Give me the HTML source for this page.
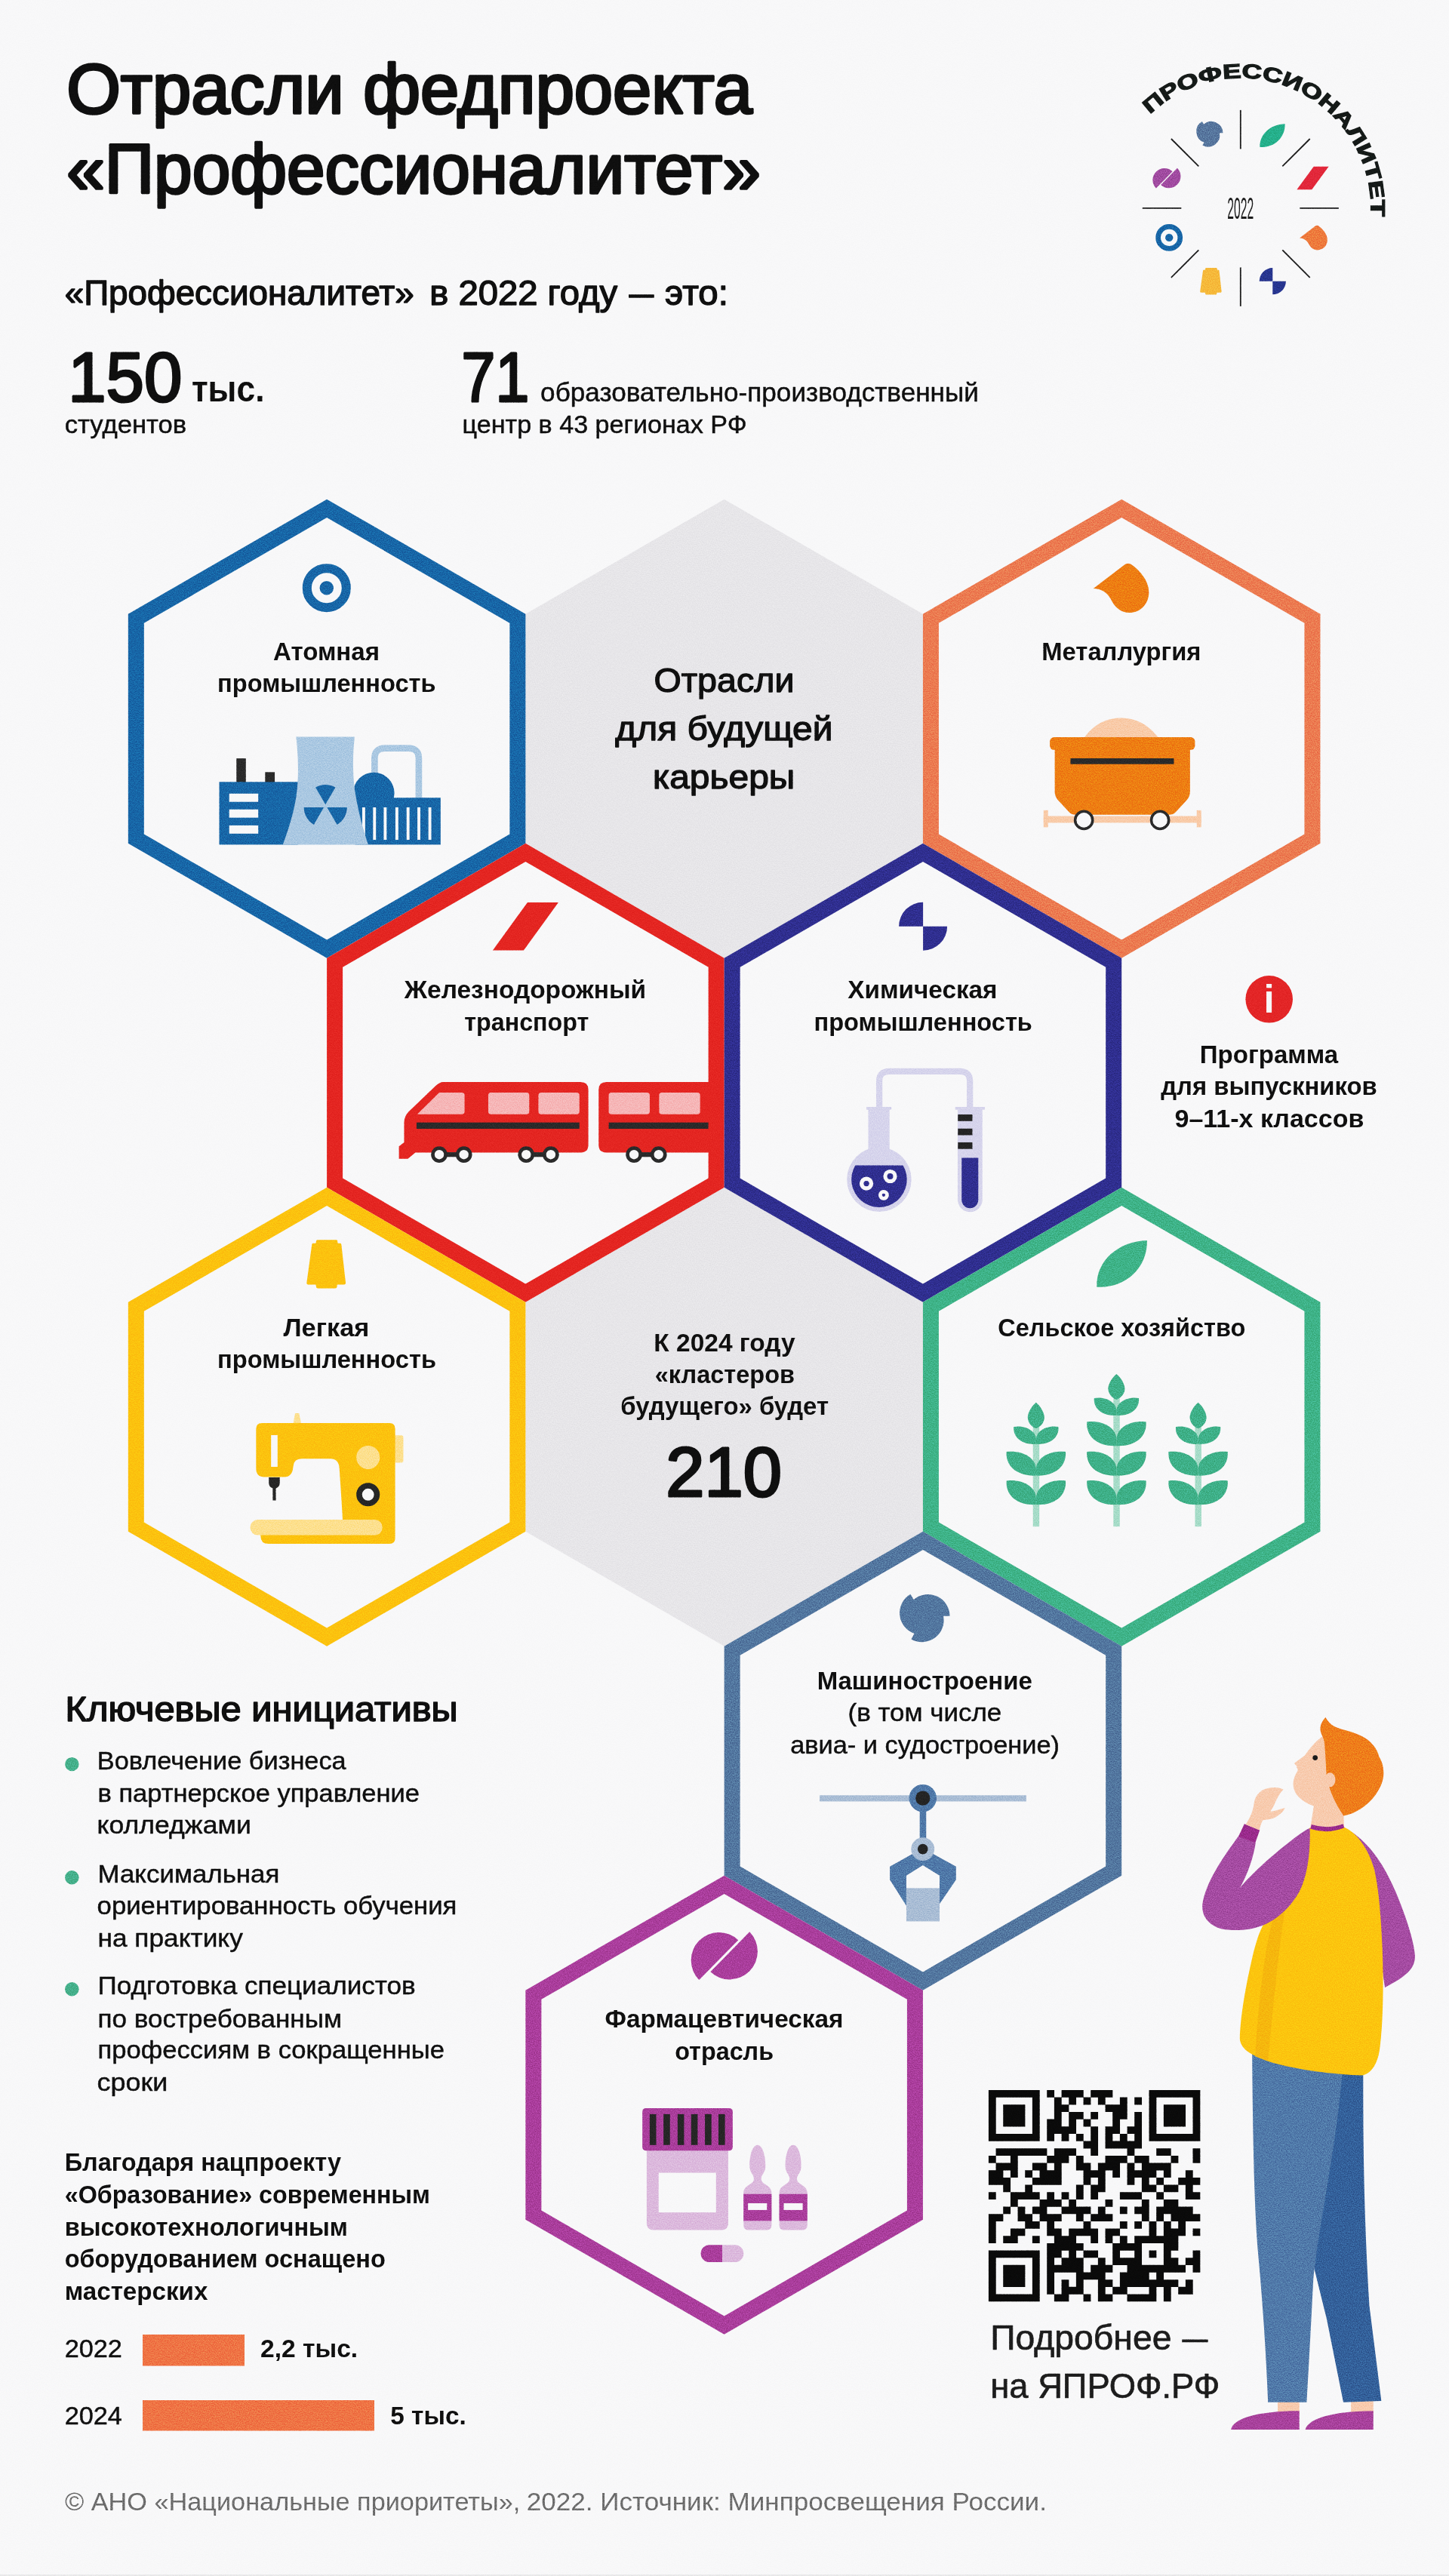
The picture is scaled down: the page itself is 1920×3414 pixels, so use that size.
<!DOCTYPE html>
<html lang="ru"><head><meta charset="utf-8"><title>Отрасли федпроекта «Профессионалитет»</title>
<style>
html,body{margin:0;padding:0;background:#f8f8f9;}
body{width:1920px;height:3414px;font-family:"Liberation Sans",sans-serif;}
svg{display:block;}
</style></head><body>
<svg width="1920" height="3414" viewBox="0 0 1920 3414" font-family="'Liberation Sans', sans-serif"><defs><filter id="grain" x="0" y="0" width="100%" height="100%" color-interpolation-filters="sRGB"><feTurbulence type="fractalNoise" baseFrequency="0.75" numOctaves="2" seed="7"/><feColorMatrix type="matrix" values="1.6 0 0 0 -0.3  1.6 0 0 0 -0.3  1.6 0 0 0 -0.3  0 0 0 0 1"/></filter></defs><path d="M959.64,661.70 L1222.92,813.70 L1222.92,1117.70 L959.64,1269.70 L696.37,1117.70 L696.37,813.70 Z" fill="#e7e6e9"/>
<path d="M959.64,1573.70 L1222.92,1725.70 L1222.92,2029.70 L959.64,2181.70 L696.37,2029.70 L696.37,1725.70 Z" fill="#e7e6e9"/>
<path d="M433.10,661.70 L696.37,813.70 L696.37,1117.70 L433.10,1269.70 L169.83,1117.70 L169.83,813.70 Z M433.10,685.95 L675.37,825.82 L675.37,1105.58 L433.10,1245.45 L190.83,1105.58 L190.83,825.82 Z" fill="#1766a7" fill-rule="evenodd"/>
<path d="M1486.19,661.70 L1749.46,813.70 L1749.46,1117.70 L1486.19,1269.70 L1222.92,1117.70 L1222.92,813.70 Z M1486.19,685.95 L1728.46,825.82 L1728.46,1105.58 L1486.19,1245.45 L1243.92,1105.58 L1243.92,825.82 Z" fill="#ec7a50" fill-rule="evenodd"/>
<path d="M696.37,1117.70 L959.64,1269.70 L959.64,1573.70 L696.37,1725.70 L433.10,1573.70 L433.10,1269.70 Z M696.37,1141.95 L938.64,1281.82 L938.64,1561.58 L696.37,1701.45 L454.10,1561.58 L454.10,1281.82 Z" fill="#e42521" fill-rule="evenodd"/>
<path d="M1222.92,1117.70 L1486.19,1269.70 L1486.19,1573.70 L1222.92,1725.70 L959.64,1573.70 L959.64,1269.70 Z M1222.92,1141.95 L1465.19,1281.82 L1465.19,1561.58 L1222.92,1701.45 L980.64,1561.58 L980.64,1281.82 Z" fill="#2f2e8f" fill-rule="evenodd"/>
<path d="M433.10,1573.70 L696.37,1725.70 L696.37,2029.70 L433.10,2181.70 L169.83,2029.70 L169.83,1725.70 Z M433.10,1597.95 L675.37,1737.82 L675.37,2017.58 L433.10,2157.45 L190.83,2017.58 L190.83,1737.82 Z" fill="#fcc20e" fill-rule="evenodd"/>
<path d="M1486.19,1573.70 L1749.46,1725.70 L1749.46,2029.70 L1486.19,2181.70 L1222.92,2029.70 L1222.92,1725.70 Z M1486.19,1597.95 L1728.46,1737.82 L1728.46,2017.58 L1486.19,2157.45 L1243.92,2017.58 L1243.92,1737.82 Z" fill="#3eb388" fill-rule="evenodd"/>
<path d="M1222.92,2029.70 L1486.19,2181.70 L1486.19,2485.70 L1222.92,2637.70 L959.64,2485.70 L959.64,2181.70 Z M1222.92,2053.95 L1465.19,2193.82 L1465.19,2473.58 L1222.92,2613.45 L980.64,2473.58 L980.64,2193.82 Z" fill="#52769f" fill-rule="evenodd"/>
<path d="M959.64,2485.70 L1222.92,2637.70 L1222.92,2941.70 L959.64,3093.70 L696.37,2941.70 L696.37,2637.70 Z M959.64,2509.95 L1201.92,2649.82 L1201.92,2929.58 L959.64,3069.45 L717.37,2929.58 L717.37,2649.82 Z" fill="#aa3d9c" fill-rule="evenodd"/>
<g transform="translate(510,1410) scale(0.31056)"><path d="M250,77 L835,77 Q868,77 868,110 L868,345 Q868,378 835,378 L130,378 L98,405 L60,405 L60,352 L82,335 L82,250 Q82,225 100,205 L215,95 Q232,77 250,77 Z" fill="#e42521"/><path d="M232,122 L328,122 Q340,122 340,134 L340,203 Q340,215 328,215 L138,215 Z" fill="#f6b6b7"/><rect x="441" y="122" width="175" height="93" rx="12" fill="#f6b6b7"/><rect x="655" y="122" width="175" height="93" rx="12" fill="#f6b6b7"/><rect x="135" y="250" width="695" height="27" fill="#2a2a2a"/><path d="M945,77 L1390,77 L1390,378 L945,378 Q912,378 912,345 L912,110 Q912,77 945,77 Z" fill="#e42521"/><rect x="955" y="122" width="175" height="93" rx="12" fill="#f6b6b7"/><rect x="1170" y="122" width="175" height="93" rx="12" fill="#f6b6b7"/><rect x="955" y="250" width="425" height="27" fill="#2a2a2a"/><rect x="232" y="377" width="105" height="20" fill="#2a2a2a"/><circle cx="232" cy="387" r="27.5" fill="#f8f8f9" stroke="#2a2a2a" stroke-width="15"/><circle cx="337" cy="387" r="27.5" fill="#f8f8f9" stroke="#2a2a2a" stroke-width="15"/><rect x="603" y="377" width="105" height="20" fill="#2a2a2a"/><circle cx="603" cy="387" r="27.5" fill="#f8f8f9" stroke="#2a2a2a" stroke-width="15"/><circle cx="708" cy="387" r="27.5" fill="#f8f8f9" stroke="#2a2a2a" stroke-width="15"/><rect x="1063" y="377" width="105" height="20" fill="#2a2a2a"/><circle cx="1063" cy="387" r="27.5" fill="#f8f8f9" stroke="#2a2a2a" stroke-width="15"/><circle cx="1168" cy="387" r="27.5" fill="#f8f8f9" stroke="#2a2a2a" stroke-width="15"/></g>
<g transform="translate(270,960) scale(0.22774)"><path d="M994,430 L994,199 Q994,139 1054,139 L1191,139 Q1251,139 1251,199 L1251,430" fill="none" stroke="#aac8e2" stroke-width="38"/><rect x="190" y="198" width="55" height="140" fill="#2a2a2a"/><rect x="357" y="278" width="56" height="60" fill="#2a2a2a"/><rect x="90" y="335" width="460" height="365" fill="#1766a7"/><rect x="148" y="403" width="169" height="48" fill="#f8f8f9"/><rect x="148" y="495" width="169" height="48" fill="#f8f8f9"/><rect x="148" y="588" width="169" height="48" fill="#f8f8f9"/><circle cx="989" cy="400" r="120" fill="#1766a7"/><rect x="880" y="427" width="498" height="273" fill="#1766a7"/><rect x="922" y="483" width="17" height="189" fill="#f8f8f9"/><rect x="985" y="483" width="17" height="189" fill="#f8f8f9"/><rect x="1047" y="483" width="17" height="189" fill="#f8f8f9"/><rect x="1115" y="483" width="17" height="189" fill="#f8f8f9"/><rect x="1180" y="483" width="17" height="189" fill="#f8f8f9"/><rect x="1243" y="483" width="17" height="189" fill="#f8f8f9"/><rect x="1307" y="483" width="17" height="189" fill="#f8f8f9"/><path d="M537,72 L878,72 C868,160 862,300 885,420 C902,520 930,620 957,700 L460,700 C490,620 522,520 538,420 C556,300 548,160 537,72 Z" fill="#aac8e2"/><path d="M708.0,467.0 L650.0,366.5 A116,116 0 0 1 766.0,366.5 Z M717.5262794416288,483.5 L833.5,483.5 A116,116 0 0 1 775.5,584.0 Z M698.4737205583712,483.5 L640.5,584.0 A116,116 0 0 1 582.5,483.5 Z" fill="#1766a7"/></g>
<g transform="translate(1000,640) scale(0.59347)"><path d="M735,570 C760,535 790,525 818,525 C850,525 880,540 902,570 Z" fill="#f9cba8"/><rect x="645" y="744" width="352" height="15" fill="#f9cba8"/><rect x="645" y="731" width="10" height="38" fill="#f9cba8"/><rect x="987" y="731" width="10" height="38" fill="#f9cba8"/><rect x="659" y="568" width="324" height="28" rx="9" fill="#ee7d12"/><path d="M670,585 L972,585 L972,690 Q972,700 965,708 L940,735 Q935,741 925,741 L717,741 Q707,741 702,735 L677,708 Q670,700 670,690 Z" fill="#ee7d12"/><rect x="705" y="615" width="231" height="13" fill="#2a2a2a"/><circle cx="735" cy="753" r="19.5" fill="#f8f8f9" stroke="#2a2a2a" stroke-width="6"/><circle cx="905" cy="753" r="19.5" fill="#f8f8f9" stroke="#2a2a2a" stroke-width="6"/></g>
<g transform="translate(1100,1400) scale(0.16563)"><path d="M393,420 L393,200 Q393,120 473,120 L1038,120 Q1118,120 1118,200 L1118,420" fill="none" stroke="#d6d4ec" stroke-width="50"/><rect x="290" y="405" width="200" height="22" rx="4" fill="#d6d4ec"/><rect x="305" y="415" width="170" height="360" fill="#d6d4ec"/><circle cx="392" cy="985" r="258" fill="#d6d4ec"/><path d="M200.9,872 L583.1,872 A222,222 0 1 1 200.9,872 Z" fill="#2f2e8f"/><circle cx="480" cy="960" r="55" fill="#f8f8f9"/><circle cx="480" cy="960" r="24" fill="#2f2e8f"/><circle cx="290" cy="1018" r="55" fill="#f8f8f9"/><circle cx="290" cy="1018" r="22" fill="#2f2e8f"/><circle cx="428" cy="1110" r="42" fill="#f8f8f9"/><circle cx="428" cy="1110" r="13" fill="#2f2e8f"/><rect x="1000" y="405" width="238" height="22" rx="4" fill="#d6d4ec"/><path d="M1020,415 L1218,415 L1218,1146 A99,99 0 0 1 1020,1146 Z" fill="#d6d4ec"/><rect x="1022" y="465" width="116" height="53" fill="#242424"/><rect x="1022" y="578" width="116" height="53" fill="#242424"/><rect x="1022" y="688" width="116" height="53" fill="#242424"/><path d="M1052,812 L1185,812 L1185,1148 A66.5,66.5 0 0 1 1052,1148 Z" fill="#2f2e8f"/></g>
<g transform="translate(310,1860) scale(0.17253)"><path d="M470,75 L500,75 L516,155 L455,155 Z" fill="#fde08e"/><rect x="1225" y="245" width="76" height="210" rx="16" fill="#fde08e"/><path d="M215,150 L1195,150 Q1238,150 1238,195 L1238,1035 Q1238,1078 1195,1078 L265,1078 Q205,1078 205,1020 L205,1000 L835,1000 L835,900 C828,750 816,600 810,500 Q805,425 740,425 L520,425 Q460,425 455,485 Q450,565 385,565 L235,565 Q170,565 170,500 L170,195 Q170,150 215,150 Z" fill="#fcc20e"/><rect x="285" y="243" width="50" height="244" fill="#f8f8f9"/><circle cx="1030" cy="415" r="90" fill="#fde08e"/><circle cx="1030" cy="700" r="68" fill="#f8f8f9" stroke="#262626" stroke-width="44"/><path d="M268,568 L352,568 L352,610 Q352,640 322,652 L322,745 L298,745 L298,652 Q268,640 268,610 Z" fill="#262626"/><rect x="125" y="893" width="1015" height="119" rx="58" fill="#fde08e"/></g>
<g transform="translate(1320,1800) scale(0.22774)"><rect x="214" y="400" width="37" height="580" fill="#a6dcc8"/><rect x="682" y="235" width="37" height="745" fill="#a6dcc8"/><rect x="1157" y="400" width="37" height="580" fill="#a6dcc8"/><path d="M60,713 C137.4,702.0 229.0,738.4 232,813.7 L232,852 C128.8,858.0 53.1,802.3 60,713 Z" fill="#3eb088"/><path d="M404,713 C326.6,702.0 235.0,738.4 232,813.7 L232,852 C335.2,858.0 410.9,802.3 404,713 Z" fill="#3eb088"/><path d="M60,545 C137.4,534.0 229.0,570.2 232,644.9 L232,683 C128.8,689.0 53.1,633.6 60,545 Z" fill="#3eb088"/><path d="M404,545 C326.6,534.0 235.0,570.2 232,644.9 L232,683 C335.2,689.0 410.9,633.6 404,545 Z" fill="#3eb088"/><path d="M102,400 C160.5,389.0 229.0,417.6 232,472.2 L232,500 C154.0,506.0 96.8,463.9 102,400 Z" fill="#3eb088"/><path d="M362,400 C303.5,389.0 235.0,417.6 232,472.2 L232,500 C310.0,506.0 367.2,463.9 362,400 Z" fill="#3eb088"/><path d="M232,258 C265.6,285.0 284.0,331.0 280.0,351.0 C276.0,383.0 251.2,403.0 232,408 C212.8,403.0 188.0,383.0 184.0,351.0 C180.0,331.0 198.4,285.0 232,258 Z" fill="#3eb088"/><path d="M1003,713 C1080.4,702.0 1172.0,738.4 1175,813.7 L1175,852 C1071.8,858.0 996.1,802.3 1003,713 Z" fill="#3eb088"/><path d="M1347,713 C1269.6,702.0 1178.0,738.4 1175,813.7 L1175,852 C1278.2,858.0 1353.9,802.3 1347,713 Z" fill="#3eb088"/><path d="M1003,545 C1080.4,534.0 1172.0,570.2 1175,644.9 L1175,683 C1071.8,689.0 996.1,633.6 1003,545 Z" fill="#3eb088"/><path d="M1347,545 C1269.6,534.0 1178.0,570.2 1175,644.9 L1175,683 C1278.2,689.0 1353.9,633.6 1347,545 Z" fill="#3eb088"/><path d="M1045,400 C1103.5,389.0 1172.0,417.6 1175,472.2 L1175,500 C1097.0,506.0 1039.8,463.9 1045,400 Z" fill="#3eb088"/><path d="M1305,400 C1246.5,389.0 1178.0,417.6 1175,472.2 L1175,500 C1253.0,506.0 1310.2,463.9 1305,400 Z" fill="#3eb088"/><path d="M1175,258 C1208.6,285.0 1227.0,331.0 1223.0,351.0 C1219.0,383.0 1194.2,403.0 1175,408 C1155.8,403.0 1131.0,383.0 1127.0,351.0 C1123.0,331.0 1141.4,285.0 1175,258 Z" fill="#3eb088"/><path d="M528,713 C605.4,702.0 697.0,738.4 700,813.7 L700,852 C596.8,858.0 521.1,802.3 528,713 Z" fill="#3eb088"/><path d="M872,713 C794.6,702.0 703.0,738.4 700,813.7 L700,852 C803.2,858.0 878.9,802.3 872,713 Z" fill="#3eb088"/><path d="M528,545 C605.4,534.0 697.0,570.2 700,644.9 L700,683 C596.8,689.0 521.1,633.6 528,545 Z" fill="#3eb088"/><path d="M872,545 C794.6,534.0 703.0,570.2 700,644.9 L700,683 C803.2,689.0 878.9,633.6 872,545 Z" fill="#3eb088"/><path d="M528,371 C605.4,360.0 697.0,396.4 700,471.7 L700,510 C596.8,516.0 521.1,460.3 528,371 Z" fill="#3eb088"/><path d="M872,371 C794.6,360.0 703.0,396.4 700,471.7 L700,510 C803.2,516.0 878.9,460.3 872,371 Z" fill="#3eb088"/><path d="M570,233 C628.5,222.0 697.0,250.6 700,305.2 L700,333 C622.0,339.0 564.8,296.9 570,233 Z" fill="#3eb088"/><path d="M830,233 C771.5,222.0 703.0,250.6 700,305.2 L700,333 C778.0,339.0 835.2,296.9 830,233 Z" fill="#3eb088"/><path d="M700,92 C733.6,118.6 752.0,164.0 748.0,184.0 C744.0,215.0 719.2,235.0 700,240 C680.8,235.0 656.0,215.0 652.0,184.0 C648.0,164.0 666.4,118.6 700,92 Z" fill="#3eb088"/></g>
<g transform="translate(1070,2350) scale(0.21395)"><rect x="75" y="137" width="1280" height="38" fill="#a9bdd5"/><rect x="695" y="200" width="40" height="230" fill="#4f78a8"/><circle cx="714" cy="155" r="85" fill="#4f78a8"/><circle cx="714" cy="155" r="45" fill="#242424"/><path d="M650,500 L510,578 L510,660 L612,822 L612,635 L714,570 L818,635 L818,810 L920,660 L920,578 L778,500 L714,530 Z" fill="#4f78a8"/><rect x="612" y="712" width="206" height="206" fill="#a9bdd5"/><circle cx="714" cy="470" r="72" fill="#a9bdd5"/><circle cx="714" cy="470" r="32" fill="#242424"/></g>
<g transform="translate(830,2780) scale(0.17944)"><path d="M150,380 L752,380 L752,928 Q752,978 702,978 L200,978 Q150,978 150,928 Z" fill="#dcb9dd"/><rect x="118" y="78" width="667" height="314" rx="26" fill="#aa3d9c"/><rect x="172" y="122" width="48" height="228" fill="#262626"/><rect x="274" y="122" width="48" height="228" fill="#262626"/><rect x="378" y="122" width="48" height="228" fill="#262626"/><rect x="478" y="122" width="48" height="228" fill="#262626"/><rect x="580" y="122" width="48" height="228" fill="#262626"/><rect x="680" y="122" width="48" height="228" fill="#262626"/><rect x="238" y="555" width="424" height="293" fill="#f8f8f9"/><g transform="translate(0,0)"><path d="M968,350 C1010,350 1032,450 1026,520 C1022,560 992,572 996,605 C1000,645 1072,645 1072,705 L1072,940 Q1072,978 1034,978 L903,978 Q865,978 865,940 L865,705 C865,645 937,645 941,605 C945,572 915,560 911,520 C905,450 926,350 968,350 Z" fill="#dcb9dd"/><rect x="865" y="712" width="207" height="198" fill="#aa3d9c"/><rect x="898" y="780" width="140" height="50" fill="#f8f8f9"/></g><g transform="translate(264,0)"><path d="M968,350 C1010,350 1032,450 1026,520 C1022,560 992,572 996,605 C1000,645 1072,645 1072,705 L1072,940 Q1072,978 1034,978 L903,978 Q865,978 865,940 L865,705 C865,645 937,645 941,605 C945,572 915,560 911,520 C905,450 926,350 968,350 Z" fill="#dcb9dd"/><rect x="865" y="712" width="207" height="198" fill="#aa3d9c"/><rect x="898" y="780" width="140" height="50" fill="#f8f8f9"/></g><path d="M613,1088 L708,1088 L708,1215 L613,1215 A63.5,63.5 0 0 1 613,1088 Z" fill="#aa3d9c"/><path d="M708,1088 L802,1088 A63.5,63.5 0 0 1 802,1215 L708,1215 Z" fill="#dcb9dd"/></g>
<g transform="translate(432.8,779.2) scale(1.0)"><circle r="26" fill="none" stroke="#1766a7" stroke-width="12"/><circle r="9.2" fill="#1766a7"/></g>
<g transform="translate(1485.6,779.2) scale(1.0)"><path d="M -36.89,0.91 L 3.42,-30.06 Q 9.79,-34.84 15.49,-29.61 C 28.01,-19.59 37.58,-6.83 36.67,7.74 C 35.75,22.32 24.60,32.79 10.93,32.79 C -0.46,32.79 -8.43,25.96 -13.89,14.58 C -18.45,6.38 -26.19,1.14 -36.89,0.91 Z" fill="#ee7d12"/></g>
<g transform="translate(696.4,1227.8) scale(1.0)"><path d="M2.5,-31.7 L43.5,-31.7 L-2.5,31.7 L-43.5,31.7 Z" fill="#e42521"/></g>
<g transform="translate(1223.1,1227.7) scale(1.0)"><path d="M0,0 L-32,0 A32,32 0 0 1 0,-32 Z M0,0 L32,0 A32,32 0 0 1 0,32 Z" fill="#2f2e8f"/></g>
<g transform="translate(432.2,1675.2) scale(1.0)"><path d="M -11.18,-32.05 L 13.42,-32.05 Q 14.66,-32.05 14.91,-30.81 L 15.40,-27.33 L 18.63,-27.33 Q 19.88,-27.33 20.12,-25.84 L 25.84,24.84 Q 26.09,27.33 23.60,27.33 L 14.66,27.33 L 14.16,30.56 Q 13.91,32.30 12.17,32.30 L -11.18,32.30 Q -12.92,32.30 -13.17,30.56 L -13.66,27.33 L -23.60,27.33 Q -26.09,27.33 -25.84,24.84 L -18.88,-25.84 Q -18.63,-27.33 -17.39,-27.33 L -13.91,-27.33 L -13.17,-30.81 Q -12.92,-32.05 -11.18,-32.05 Z" fill="#fcc20e"/></g>
<g transform="translate(1486.6,1674.9) scale(1.0)"><path d="M -33.29,30.81 C -35.03,-3.98 -3.98,-30.06 33.29,-30.81 C 34.04,7.20 2.73,33.04 -33.29,30.81 Z" fill="#3eb388"/></g>
<g transform="translate(1224.1,2142.3) scale(1.0)"><path d="M-13.38,-22.26 A28.85,28.85 0 0 1 34.39,-0.60 L25.97,-0.45 A28.85,28.85 0 0 1 -16.68,30.09 L-12.59,22.71 A28.85,28.85 0 0 1 -17.72,-29.49 Z" fill="#52769f"/></g>
<g transform="translate(959.8,2592.2) scale(1.0)"><path d="M18.43,-21.07 A37.06,37.06 0 0 0 -33.43,31.87 Z M33.43,-31.87 A37.06,37.06 0 0 1 -18.43,21.07 Z " fill="#aa3d9c"/></g>
<line x1="1722.3" y1="275.9" x2="1773.8" y2="275.9" stroke="#1c1c1c" stroke-width="1.8"/><line x1="1699.3" y1="331.4" x2="1735.7" y2="367.8" stroke="#1c1c1c" stroke-width="1.8"/><line x1="1643.8" y1="354.4" x2="1643.8" y2="405.9" stroke="#1c1c1c" stroke-width="1.8"/><line x1="1588.3" y1="331.4" x2="1551.9" y2="367.8" stroke="#1c1c1c" stroke-width="1.8"/><line x1="1565.3" y1="275.9" x2="1513.8" y2="275.9" stroke="#1c1c1c" stroke-width="1.8"/><line x1="1588.3" y1="220.4" x2="1551.9" y2="184.0" stroke="#1c1c1c" stroke-width="1.8"/><line x1="1643.8" y1="197.4" x2="1643.8" y2="145.9" stroke="#1c1c1c" stroke-width="1.8"/><line x1="1699.3" y1="220.4" x2="1735.7" y2="184.0" stroke="#1c1c1c" stroke-width="1.8"/><g transform="translate(1602.2,176.6) scale(0.53)"><path d="M-13.38,-22.26 A28.85,28.85 0 0 1 34.39,-0.60 L25.97,-0.45 A28.85,28.85 0 0 1 -16.68,30.09 L-12.59,22.71 A28.85,28.85 0 0 1 -17.72,-29.49 Z" fill="#56759d"/></g><g transform="translate(1686.0,179.6) scale(0.5)"><path d="M -33.29,30.81 C -35.03,-3.98 -3.98,-30.06 33.29,-30.81 C 34.04,7.20 2.73,33.04 -33.29,30.81 Z" fill="#25b08b"/></g><g transform="translate(1739.5,236.0) scale(0.485)"><path d="M2.5,-31.7 L43.5,-31.7 L-2.5,31.7 L-43.5,31.7 Z" fill="#e2273a"/></g><g transform="translate(1740.5,315.0) scale(0.5)"><path d="M -36.89,0.91 L 3.42,-30.06 Q 9.79,-34.84 15.49,-29.61 C 28.01,-19.59 37.58,-6.83 36.67,7.74 C 35.75,22.32 24.60,32.79 10.93,32.79 C -0.46,32.79 -8.43,25.96 -13.89,14.58 C -18.45,6.38 -26.19,1.14 -36.89,0.91 Z" fill="#ee7a3c"/></g><g transform="translate(1686.3,372.7) scale(0.55)"><path d="M0,0 L-32,0 A32,32 0 0 1 0,-32 Z M0,0 L32,0 A32,32 0 0 1 0,32 Z" fill="#27358f"/></g><g transform="translate(1604.4,372.7) scale(0.55)"><path d="M -11.18,-32.05 L 13.42,-32.05 Q 14.66,-32.05 14.91,-30.81 L 15.40,-27.33 L 18.63,-27.33 Q 19.88,-27.33 20.12,-25.84 L 25.84,24.84 Q 26.09,27.33 23.60,27.33 L 14.66,27.33 L 14.16,30.56 Q 13.91,32.30 12.17,32.30 L -11.18,32.30 Q -12.92,32.30 -13.17,30.56 L -13.66,27.33 L -23.60,27.33 Q -26.09,27.33 -25.84,24.84 L -18.88,-25.84 Q -18.63,-27.33 -17.39,-27.33 L -13.91,-27.33 L -13.17,-30.81 Q -12.92,-32.05 -11.18,-32.05 Z" fill="#f6b93a"/></g><g transform="translate(1549.2,314.9) scale(0.56)"><circle r="26" fill="none" stroke="#1766a7" stroke-width="12"/><circle r="9.2" fill="#1766a7"/></g><g transform="translate(1545.9,236.1) scale(0.42)"><path d="M18.43,-21.07 A37.06,37.06 0 0 0 -33.43,31.87 Z M33.43,-31.87 A37.06,37.06 0 0 1 -18.43,21.07 Z " fill="#a04aa0"/></g>
<path id="arcp" d="M1523.90,151.74 A172.6,172.6 0 0 1 1816.08,286.44" fill="none"/>
<text font-size="26.5" font-weight="bold" fill="#151a18" stroke="#151a18" stroke-width="1.3" textLength="414.2" lengthAdjust="spacingAndGlyphs"><textPath href="#arcp" textLength="414.2" lengthAdjust="spacingAndGlyphs">ПРОФЕССИОНАЛИТЕТ</textPath></text>
<text x="1626.35" y="290.20" font-size="40" font-weight="normal" fill="#1c1c1c" textLength="34.89" lengthAdjust="spacingAndGlyphs">2022</text>
<circle cx="1681.7" cy="1324.3" r="31.3" fill="#e32526"/>
<text x="1681.7" y="1341.6" font-size="51" font-weight="bold" text-anchor="middle" fill="#f8f8f9">i</text>
<rect x="189" y="3094" width="135" height="41.5" fill="#ef7344"/>
<rect x="189" y="3181" width="307" height="40.5" fill="#ef7344"/>
<circle cx="95.3" cy="2338.1" r="9.2" fill="#45b08b"/>
<circle cx="95.3" cy="2488.3" r="9.2" fill="#45b08b"/>
<circle cx="95.3" cy="2636.2" r="9.2" fill="#45b08b"/>
<rect x="0" y="3412" width="1920" height="2" fill="#e9e9ea"/>
<g transform="translate(1280,2720) scale(0.44170)"><rect x="935" y="1040" width="65" height="45" fill="#f8cbae"/><rect x="1155" y="1040" width="67" height="45" fill="#f8cbae"/><path d="M1100,-40 L1192,-20 C1190,300 1195,500 1210,760 L1246,1046 L1132,1050 L1082,800 L1045,650 Z" fill="#33609a"/><path d="M858,-60 L1135,-20 C1120,250 1060,500 1042,680 C1036,800 1028,950 1022,1050 L906,1050 C900,900 890,750 876,600 C864,450 860,250 858,-60 Z" fill="#5079a9"/><path d="M795,1132 C800,1100 870,1076 1000,1076 L1000,1132 Z" fill="#a8419c"/><path d="M1018,1132 C1025,1100 1100,1076 1222,1076 L1222,1132 Z" fill="#a8419c"/></g><g transform="translate(1540,2240) scale(0.26226)"><path d="M955,715 C1050,780 1120,880 1180,1020 C1230,1140 1270,1260 1277,1340 C1280,1400 1240,1445 1125,1502 L1080,1200 Z" fill="#a54ba2"/><path d="M745,695 Q830,725 915,690 C985,720 1040,800 1070,900 C1095,1000 1105,1150 1112,1300 C1120,1500 1115,1700 1098,1820 C1085,1900 1050,1940 1010,1947 C850,1940 650,1915 520,1870 C440,1840 395,1810 392,1760 C395,1650 420,1500 460,1330 C480,1250 500,1200 520,1170 L640,900 L738,712 Z" fill="#fcc50e"/><path d="M560,1150 L618,1120 C590,1300 560,1600 535,1872 L470,1850 C485,1600 510,1350 560,1150 Z" fill="#f6b70d"/><path d="M385,738 L472,772 C462,840 432,930 392,1000 C450,930 560,830 650,762 C700,722 735,700 746,698 C750,850 725,960 692,1020 C640,1110 570,1165 500,1192 C450,1210 400,1215 340,1212 C250,1208 190,1150 205,1070 C230,950 320,830 385,738 Z" fill="#a54ba2"/><path d="M415,676 L493,706 L470,772 L385,740 Z" fill="#9a2a8c"/></g><g transform="translate(1630,2260) scale(0.15184)"><path d="M800,275 C740,320 690,380 650,440 L560,505 Q566,522 582,528 Q574,540 588,553 L590,572 C565,610 545,660 552,710 C562,780 620,840 730,880 L700,1070 L995,1070 L990,960 L860,300 Z" fill="#f8cbae"/><path d="M832,105 C800,140 778,185 790,230 C800,265 815,285 822,320 C830,400 835,500 840,600 C850,680 880,800 990,965 C1080,950 1200,880 1270,780 C1320,710 1345,640 1338,570 C1335,520 1320,480 1300,450 C1285,380 1230,310 1150,270 C1060,225 960,215 900,180 C870,160 850,135 832,105 Z" fill="#ef7d1a"/><ellipse cx="872" cy="650" rx="47" ry="63" fill="#f8cbae"/><circle cx="742" cy="458" r="22" fill="#1a1a1a"/><path d="M710,1040 Q850,1085 985,1035 L996,1068 Q850,1128 700,1078 Z" fill="#9a2a8c"/><path d="M135,1040 C175,985 200,920 208,860 C215,800 250,750 310,730 C360,715 420,712 465,735 C430,770 400,830 385,870 C370,900 358,915 352,925 C390,925 440,905 478,895 C470,925 430,960 380,985 C340,1000 300,1000 285,1005 C270,1030 262,1060 255,1090 Z" fill="#f8cbae"/></g>
<path d="M1309.90,2769.90h67.81v9.82h-67.81zM1387.22,2769.90h9.82v9.82h-9.82zM1406.56,2769.90h29.15v9.82h-29.15zM1445.22,2769.90h29.15v9.82h-29.15zM1522.54,2769.90h67.81v9.82h-67.81zM1309.90,2779.57h9.82v9.82h-9.82zM1367.89,2779.57h9.82v9.82h-9.82zM1396.89,2779.57h9.82v9.82h-9.82zM1416.22,2779.57h9.82v9.82h-9.82zM1435.55,2779.57h9.82v9.82h-9.82zM1454.88,2779.57h9.82v9.82h-9.82zM1483.88,2779.57h9.82v9.82h-9.82zM1503.21,2779.57h9.82v9.82h-9.82zM1522.54,2779.57h9.82v9.82h-9.82zM1580.53,2779.57h9.82v9.82h-9.82zM1309.90,2789.23h9.82v9.82h-9.82zM1329.23,2789.23h29.15v9.82h-29.15zM1367.89,2789.23h9.82v9.82h-9.82zM1396.89,2789.23h19.48v9.82h-19.48zM1464.55,2789.23h29.15v9.82h-29.15zM1522.54,2789.23h9.82v9.82h-9.82zM1541.87,2789.23h29.15v9.82h-29.15zM1580.53,2789.23h9.82v9.82h-9.82zM1309.90,2798.90h9.82v9.82h-9.82zM1329.23,2798.90h29.15v9.82h-29.15zM1367.89,2798.90h9.82v9.82h-9.82zM1396.89,2798.90h9.82v9.82h-9.82zM1416.22,2798.90h19.48v9.82h-19.48zM1445.22,2798.90h9.82v9.82h-9.82zM1474.21,2798.90h19.48v9.82h-19.48zM1503.21,2798.90h9.82v9.82h-9.82zM1522.54,2798.90h9.82v9.82h-9.82zM1541.87,2798.90h29.15v9.82h-29.15zM1580.53,2798.90h9.82v9.82h-9.82zM1309.90,2808.56h9.82v9.82h-9.82zM1329.23,2808.56h29.15v9.82h-29.15zM1367.89,2808.56h9.82v9.82h-9.82zM1387.22,2808.56h19.48v9.82h-19.48zM1416.22,2808.56h9.82v9.82h-9.82zM1435.55,2808.56h9.82v9.82h-9.82zM1474.21,2808.56h9.82v9.82h-9.82zM1503.21,2808.56h9.82v9.82h-9.82zM1522.54,2808.56h9.82v9.82h-9.82zM1541.87,2808.56h29.15v9.82h-29.15zM1580.53,2808.56h9.82v9.82h-9.82zM1309.90,2818.23h9.82v9.82h-9.82zM1367.89,2818.23h9.82v9.82h-9.82zM1387.22,2818.23h38.81v9.82h-38.81zM1445.22,2818.23h9.82v9.82h-9.82zM1464.55,2818.23h19.48v9.82h-19.48zM1493.54,2818.23h19.48v9.82h-19.48zM1522.54,2818.23h9.82v9.82h-9.82zM1580.53,2818.23h9.82v9.82h-9.82zM1309.90,2827.89h67.81v9.82h-67.81zM1387.22,2827.89h9.82v9.82h-9.82zM1406.56,2827.89h9.82v9.82h-9.82zM1425.89,2827.89h9.82v9.82h-9.82zM1445.22,2827.89h9.82v9.82h-9.82zM1464.55,2827.89h9.82v9.82h-9.82zM1483.88,2827.89h9.82v9.82h-9.82zM1503.21,2827.89h9.82v9.82h-9.82zM1522.54,2827.89h67.81v9.82h-67.81zM1435.55,2837.56h19.48v9.82h-19.48zM1464.55,2837.56h48.48v9.82h-48.48zM1319.57,2847.22h67.81v9.82h-67.81zM1396.89,2847.22h29.15v9.82h-29.15zM1445.22,2847.22h9.82v9.82h-9.82zM1493.54,2847.22h9.82v9.82h-9.82zM1532.21,2847.22h19.48v9.82h-19.48zM1580.53,2847.22h9.82v9.82h-9.82zM1309.90,2856.89h9.82v9.82h-9.82zM1338.90,2856.89h9.82v9.82h-9.82zM1387.22,2856.89h29.15v9.82h-29.15zM1425.89,2856.89h9.82v9.82h-9.82zM1464.55,2856.89h29.15v9.82h-29.15zM1503.21,2856.89h19.48v9.82h-19.48zM1551.54,2856.89h9.82v9.82h-9.82zM1580.53,2856.89h9.82v9.82h-9.82zM1319.57,2866.56h29.15v9.82h-29.15zM1367.89,2866.56h19.48v9.82h-19.48zM1396.89,2866.56h9.82v9.82h-9.82zM1425.89,2866.56h19.48v9.82h-19.48zM1454.88,2866.56h29.15v9.82h-29.15zM1493.54,2866.56h9.82v9.82h-9.82zM1512.88,2866.56h38.81v9.82h-38.81zM1309.90,2876.22h19.48v9.82h-19.48zM1338.90,2876.22h9.82v9.82h-9.82zM1358.23,2876.22h9.82v9.82h-9.82zM1377.56,2876.22h29.15v9.82h-29.15zM1435.55,2876.22h29.15v9.82h-29.15zM1474.21,2876.22h9.82v9.82h-9.82zM1493.54,2876.22h38.81v9.82h-38.81zM1541.87,2876.22h9.82v9.82h-9.82zM1570.87,2876.22h9.82v9.82h-9.82zM1309.90,2885.89h29.15v9.82h-29.15zM1367.89,2885.89h38.81v9.82h-38.81zM1435.55,2885.89h9.82v9.82h-9.82zM1454.88,2885.89h9.82v9.82h-9.82zM1493.54,2885.89h9.82v9.82h-9.82zM1512.88,2885.89h9.82v9.82h-9.82zM1532.21,2885.89h9.82v9.82h-9.82zM1561.20,2885.89h29.15v9.82h-29.15zM1329.23,2895.55h9.82v9.82h-9.82zM1358.23,2895.55h9.82v9.82h-9.82zM1425.89,2895.55h9.82v9.82h-9.82zM1445.22,2895.55h19.48v9.82h-19.48zM1512.88,2895.55h19.48v9.82h-19.48zM1541.87,2895.55h19.48v9.82h-19.48zM1570.87,2895.55h9.82v9.82h-9.82zM1309.90,2905.22h9.82v9.82h-9.82zM1338.90,2905.22h38.81v9.82h-38.81zM1387.22,2905.22h9.82v9.82h-9.82zM1406.56,2905.22h9.82v9.82h-9.82zM1425.89,2905.22h9.82v9.82h-9.82zM1445.22,2905.22h9.82v9.82h-9.82zM1483.88,2905.22h29.15v9.82h-29.15zM1532.21,2905.22h9.82v9.82h-9.82zM1570.87,2905.22h19.48v9.82h-19.48zM1338.90,2914.88h9.82v9.82h-9.82zM1377.56,2914.88h29.15v9.82h-29.15zM1416.22,2914.88h9.82v9.82h-9.82zM1464.55,2914.88h9.82v9.82h-9.82zM1512.88,2914.88h9.82v9.82h-9.82zM1541.87,2914.88h19.48v9.82h-19.48zM1329.23,2924.55h9.82v9.82h-9.82zM1348.56,2924.55h9.82v9.82h-9.82zM1367.89,2924.55h19.48v9.82h-19.48zM1406.56,2924.55h38.81v9.82h-38.81zM1454.88,2924.55h9.82v9.82h-9.82zM1483.88,2924.55h9.82v9.82h-9.82zM1503.21,2924.55h19.48v9.82h-19.48zM1532.21,2924.55h48.48v9.82h-48.48zM1309.90,2934.21h19.48v9.82h-19.48zM1348.56,2934.21h19.48v9.82h-19.48zM1377.56,2934.21h29.15v9.82h-29.15zM1425.89,2934.21h9.82v9.82h-9.82zM1445.22,2934.21h29.15v9.82h-29.15zM1512.88,2934.21h9.82v9.82h-9.82zM1532.21,2934.21h9.82v9.82h-9.82zM1551.54,2934.21h38.81v9.82h-38.81zM1309.90,2943.88h9.82v9.82h-9.82zM1358.23,2943.88h19.48v9.82h-19.48zM1387.22,2943.88h9.82v9.82h-9.82zM1435.55,2943.88h9.82v9.82h-9.82zM1483.88,2943.88h9.82v9.82h-9.82zM1503.21,2943.88h9.82v9.82h-9.82zM1522.54,2943.88h9.82v9.82h-9.82zM1541.87,2943.88h9.82v9.82h-9.82zM1561.20,2943.88h9.82v9.82h-9.82zM1309.90,2953.54h9.82v9.82h-9.82zM1338.90,2953.54h19.48v9.82h-19.48zM1387.22,2953.54h19.48v9.82h-19.48zM1416.22,2953.54h38.81v9.82h-38.81zM1464.55,2953.54h19.48v9.82h-19.48zM1522.54,2953.54h9.82v9.82h-9.82zM1541.87,2953.54h29.15v9.82h-29.15zM1580.53,2953.54h9.82v9.82h-9.82zM1309.90,2963.21h9.82v9.82h-9.82zM1329.23,2963.21h19.48v9.82h-19.48zM1367.89,2963.21h9.82v9.82h-9.82zM1396.89,2963.21h29.15v9.82h-29.15zM1445.22,2963.21h9.82v9.82h-9.82zM1464.55,2963.21h9.82v9.82h-9.82zM1483.88,2963.21h9.82v9.82h-9.82zM1503.21,2963.21h58.14v9.82h-58.14zM1387.22,2972.88h48.48v9.82h-48.48zM1474.21,2972.88h38.81v9.82h-38.81zM1541.87,2972.88h19.48v9.82h-19.48zM1309.90,2982.54h67.81v9.82h-67.81zM1387.22,2982.54h19.48v9.82h-19.48zM1416.22,2982.54h9.82v9.82h-9.82zM1435.55,2982.54h19.48v9.82h-19.48zM1474.21,2982.54h9.82v9.82h-9.82zM1503.21,2982.54h9.82v9.82h-9.82zM1522.54,2982.54h9.82v9.82h-9.82zM1541.87,2982.54h9.82v9.82h-9.82zM1580.53,2982.54h9.82v9.82h-9.82zM1309.90,2992.21h9.82v9.82h-9.82zM1367.89,2992.21h9.82v9.82h-9.82zM1387.22,2992.21h9.82v9.82h-9.82zM1406.56,2992.21h29.15v9.82h-29.15zM1454.88,2992.21h9.82v9.82h-9.82zM1474.21,2992.21h38.81v9.82h-38.81zM1541.87,2992.21h19.48v9.82h-19.48zM1570.87,2992.21h19.48v9.82h-19.48zM1309.90,3001.87h9.82v9.82h-9.82zM1329.23,3001.87h29.15v9.82h-29.15zM1367.89,3001.87h9.82v9.82h-9.82zM1387.22,3001.87h48.48v9.82h-48.48zM1445.22,3001.87h29.15v9.82h-29.15zM1493.54,3001.87h77.47v9.82h-77.47zM1580.53,3001.87h9.82v9.82h-9.82zM1309.90,3011.54h9.82v9.82h-9.82zM1329.23,3011.54h29.15v9.82h-29.15zM1367.89,3011.54h9.82v9.82h-9.82zM1387.22,3011.54h9.82v9.82h-9.82zM1425.89,3011.54h38.81v9.82h-38.81zM1483.88,3011.54h38.81v9.82h-38.81zM1532.21,3011.54h9.82v9.82h-9.82zM1309.90,3021.20h9.82v9.82h-9.82zM1329.23,3021.20h29.15v9.82h-29.15zM1367.89,3021.20h9.82v9.82h-9.82zM1387.22,3021.20h9.82v9.82h-9.82zM1406.56,3021.20h9.82v9.82h-9.82zM1425.89,3021.20h9.82v9.82h-9.82zM1454.88,3021.20h19.48v9.82h-19.48zM1483.88,3021.20h77.47v9.82h-77.47zM1570.87,3021.20h9.82v9.82h-9.82zM1309.90,3030.87h9.82v9.82h-9.82zM1367.89,3030.87h9.82v9.82h-9.82zM1387.22,3030.87h9.82v9.82h-9.82zM1406.56,3030.87h29.15v9.82h-29.15zM1454.88,3030.87h9.82v9.82h-9.82zM1474.21,3030.87h19.48v9.82h-19.48zM1522.54,3030.87h9.82v9.82h-9.82zM1541.87,3030.87h9.82v9.82h-9.82zM1561.20,3030.87h19.48v9.82h-19.48zM1309.90,3040.53h67.81v9.82h-67.81zM1396.89,3040.53h19.48v9.82h-19.48zM1435.55,3040.53h9.82v9.82h-9.82zM1454.88,3040.53h19.48v9.82h-19.48zM1493.54,3040.53h38.81v9.82h-38.81zM1541.87,3040.53h9.82v9.82h-9.82z" fill="#0a0a0a"/>
<g><text x="88.20" y="149.60" font-size="93" font-weight="normal" fill="#0f0f0f" textLength="908.72" lengthAdjust="spacingAndGlyphs" stroke="#0f0f0f" stroke-width="3.5" stroke-linejoin="round">Отрасли федпроекта</text>
<text x="88.20" y="255.80" font-size="93" font-weight="normal" fill="#0f0f0f" textLength="919.53" lengthAdjust="spacingAndGlyphs" stroke="#0f0f0f" stroke-width="3.5" stroke-linejoin="round">«Профессионалитет»</text>
<text x="85.70" y="404.40" font-size="46" font-weight="normal" fill="#0f0f0f" textLength="463.11" lengthAdjust="spacingAndGlyphs" stroke="#0f0f0f" stroke-width="1.4" stroke-linejoin="round">«Профессионалитет»</text>
<text x="569.20" y="404.40" font-size="46" font-weight="normal" fill="#0f0f0f" textLength="249.00" lengthAdjust="spacingAndGlyphs" stroke="#0f0f0f" stroke-width="1.4" stroke-linejoin="round">в 2022 году</text>
<text x="833.40" y="404.40" font-size="46" font-weight="normal" fill="#0f0f0f" textLength="32.80" lengthAdjust="spacingAndGlyphs" stroke="#0f0f0f" stroke-width="1.4" stroke-linejoin="round">—</text>
<text x="881.00" y="404.40" font-size="46" font-weight="normal" fill="#0f0f0f" textLength="83.80" lengthAdjust="spacingAndGlyphs" stroke="#0f0f0f" stroke-width="1.4" stroke-linejoin="round">это:</text>
<text x="90.30" y="532.40" font-size="93.5" font-weight="normal" fill="#0f0f0f" textLength="150.94" lengthAdjust="spacingAndGlyphs" stroke="#0f0f0f" stroke-width="3.2" stroke-linejoin="round">150</text>
<text x="253.90" y="532.40" font-size="48" font-weight="bold" fill="#0f0f0f" textLength="96.59" lengthAdjust="spacingAndGlyphs">тыс.</text>
<text x="85.70" y="574.40" font-size="34" font-weight="normal" fill="#0f0f0f" textLength="161.50" lengthAdjust="spacingAndGlyphs" stroke="#0f0f0f" stroke-width="0.45" stroke-linejoin="round">студентов</text>
<text x="611.60" y="532.40" font-size="93.5" font-weight="normal" fill="#0f0f0f" textLength="89.63" lengthAdjust="spacingAndGlyphs" stroke="#0f0f0f" stroke-width="3.2" stroke-linejoin="round">71</text>
<text x="716.10" y="531.80" font-size="34.5" font-weight="normal" fill="#0f0f0f" textLength="580.80" lengthAdjust="spacingAndGlyphs" stroke="#0f0f0f" stroke-width="0.45" stroke-linejoin="round">образовательно-производственный</text>
<text x="612.60" y="574.10" font-size="34" font-weight="normal" fill="#0f0f0f" textLength="377.01" lengthAdjust="spacingAndGlyphs" stroke="#0f0f0f" stroke-width="0.45" stroke-linejoin="round">центр в 43 регионах РФ</text>
<text x="361.95" y="874.90" font-size="34" font-weight="bold" fill="#0f0f0f" textLength="141.09" lengthAdjust="spacingAndGlyphs">Атомная</text>
<text x="288.10" y="916.80" font-size="34" font-weight="bold" fill="#0f0f0f" textLength="289.41" lengthAdjust="spacingAndGlyphs">промышленность</text>
<text x="1380.30" y="874.90" font-size="34" font-weight="bold" fill="#0f0f0f" textLength="211.19" lengthAdjust="spacingAndGlyphs">Металлургия</text>
<text x="866.55" y="916.60" font-size="44.5" font-weight="normal" fill="#0f0f0f" textLength="185.91" lengthAdjust="spacingAndGlyphs" stroke="#0f0f0f" stroke-width="1.3" stroke-linejoin="round">Отрасли</text>
<text x="815.35" y="981.20" font-size="44.5" font-weight="normal" fill="#0f0f0f" textLength="288.08" lengthAdjust="spacingAndGlyphs" stroke="#0f0f0f" stroke-width="1.3" stroke-linejoin="round">для будущей</text>
<text x="865.10" y="1045.20" font-size="44.5" font-weight="normal" fill="#0f0f0f" textLength="188.19" lengthAdjust="spacingAndGlyphs" stroke="#0f0f0f" stroke-width="1.3" stroke-linejoin="round">карьеры</text>
<text x="535.80" y="1323.30" font-size="34" font-weight="bold" fill="#0f0f0f" textLength="320.29" lengthAdjust="spacingAndGlyphs">Железнодорожный</text>
<text x="615.25" y="1365.50" font-size="34" font-weight="bold" fill="#0f0f0f" textLength="165.11" lengthAdjust="spacingAndGlyphs">транспорт</text>
<text x="1123.35" y="1323.30" font-size="34" font-weight="bold" fill="#0f0f0f" textLength="198.10" lengthAdjust="spacingAndGlyphs">Химическая</text>
<text x="1078.50" y="1365.50" font-size="34" font-weight="bold" fill="#0f0f0f" textLength="289.41" lengthAdjust="spacingAndGlyphs">промышленность</text>
<text x="1589.80" y="1409.30" font-size="34" font-weight="bold" fill="#0f0f0f" textLength="183.38" lengthAdjust="spacingAndGlyphs">Программа</text>
<text x="1538.25" y="1451.30" font-size="34" font-weight="bold" fill="#0f0f0f" textLength="286.49" lengthAdjust="spacingAndGlyphs">для выпускников</text>
<text x="1556.50" y="1494.20" font-size="34" font-weight="bold" fill="#0f0f0f" textLength="250.82" lengthAdjust="spacingAndGlyphs">9–11-х классов</text>
<text x="375.55" y="1771.30" font-size="34" font-weight="bold" fill="#0f0f0f" textLength="113.72" lengthAdjust="spacingAndGlyphs">Легкая</text>
<text x="288.05" y="1813.40" font-size="34" font-weight="bold" fill="#0f0f0f" textLength="289.91" lengthAdjust="spacingAndGlyphs">промышленность</text>
<text x="866.35" y="1791.10" font-size="34" font-weight="bold" fill="#0f0f0f" textLength="187.29" lengthAdjust="spacingAndGlyphs">К 2024 году</text>
<text x="867.75" y="1833.20" font-size="34" font-weight="bold" fill="#0f0f0f" textLength="185.29" lengthAdjust="spacingAndGlyphs">«кластеров</text>
<text x="822.35" y="1875.30" font-size="34" font-weight="bold" fill="#0f0f0f" textLength="275.70" lengthAdjust="spacingAndGlyphs">будущего» будет</text>
<text x="882.30" y="1983.30" font-size="93" font-weight="normal" fill="#0f0f0f" textLength="153.54" lengthAdjust="spacingAndGlyphs" stroke="#0f0f0f" stroke-width="3.2" stroke-linejoin="round">210</text>
<text x="1322.35" y="1770.80" font-size="34" font-weight="bold" fill="#0f0f0f" textLength="327.91" lengthAdjust="spacingAndGlyphs">Сельское хозяйство</text>
<text x="1082.65" y="2239.30" font-size="34" font-weight="bold" fill="#0f0f0f" textLength="285.10" lengthAdjust="spacingAndGlyphs">Машиностроение</text>
<text x="1123.55" y="2281.40" font-size="34" font-weight="normal" fill="#0f0f0f" textLength="203.69" lengthAdjust="spacingAndGlyphs" stroke="#0f0f0f" stroke-width="0.45" stroke-linejoin="round">(в том числе</text>
<text x="1047.15" y="2324.20" font-size="34" font-weight="normal" fill="#0f0f0f" textLength="356.91" lengthAdjust="spacingAndGlyphs" stroke="#0f0f0f" stroke-width="0.45" stroke-linejoin="round">авиа- и судостроение)</text>
<text x="801.60" y="2687.40" font-size="34" font-weight="bold" fill="#0f0f0f" textLength="315.79" lengthAdjust="spacingAndGlyphs">Фармацевтическая</text>
<text x="894.15" y="2729.90" font-size="34" font-weight="bold" fill="#0f0f0f" textLength="130.89" lengthAdjust="spacingAndGlyphs">отрасль</text>
<text x="86.60" y="2281.40" font-size="45.5" font-weight="normal" fill="#0f0f0f" textLength="520.09" lengthAdjust="spacingAndGlyphs" stroke="#0f0f0f" stroke-width="1.6" stroke-linejoin="round">Ключевые инициативы</text>
<text x="128.80" y="2345.30" font-size="33" font-weight="normal" fill="#0f0f0f" textLength="329.88" lengthAdjust="spacingAndGlyphs" stroke="#0f0f0f" stroke-width="0.45" stroke-linejoin="round">Вовлечение бизнеса</text>
<text x="129.50" y="2387.90" font-size="33" font-weight="normal" fill="#0f0f0f" textLength="426.40" lengthAdjust="spacingAndGlyphs" stroke="#0f0f0f" stroke-width="0.45" stroke-linejoin="round">в партнерское управление</text>
<text x="128.60" y="2430.10" font-size="33" font-weight="normal" fill="#0f0f0f" textLength="204.19" lengthAdjust="spacingAndGlyphs" stroke="#0f0f0f" stroke-width="0.45" stroke-linejoin="round">колледжами</text>
<text x="129.50" y="2495.40" font-size="33" font-weight="normal" fill="#0f0f0f" textLength="240.89" lengthAdjust="spacingAndGlyphs" stroke="#0f0f0f" stroke-width="0.45" stroke-linejoin="round">Максимальная</text>
<text x="128.60" y="2537.40" font-size="33" font-weight="normal" fill="#0f0f0f" textLength="476.81" lengthAdjust="spacingAndGlyphs" stroke="#0f0f0f" stroke-width="0.45" stroke-linejoin="round">ориентированность обучения</text>
<text x="129.50" y="2580.20" font-size="33" font-weight="normal" fill="#0f0f0f" textLength="192.30" lengthAdjust="spacingAndGlyphs" stroke="#0f0f0f" stroke-width="0.45" stroke-linejoin="round">на практику</text>
<text x="129.50" y="2643.40" font-size="33" font-weight="normal" fill="#0f0f0f" textLength="421.12" lengthAdjust="spacingAndGlyphs" stroke="#0f0f0f" stroke-width="0.45" stroke-linejoin="round">Подготовка специалистов</text>
<text x="129.50" y="2686.60" font-size="33" font-weight="normal" fill="#0f0f0f" textLength="323.49" lengthAdjust="spacingAndGlyphs" stroke="#0f0f0f" stroke-width="0.45" stroke-linejoin="round">по востребованным</text>
<text x="129.50" y="2728.20" font-size="33" font-weight="normal" fill="#0f0f0f" textLength="459.48" lengthAdjust="spacingAndGlyphs" stroke="#0f0f0f" stroke-width="0.45" stroke-linejoin="round">профессиям в сокращенные</text>
<text x="128.60" y="2770.60" font-size="33" font-weight="normal" fill="#0f0f0f" textLength="93.81" lengthAdjust="spacingAndGlyphs" stroke="#0f0f0f" stroke-width="0.45" stroke-linejoin="round">сроки</text>
<text x="85.70" y="2877.10" font-size="33" font-weight="bold" fill="#0f0f0f" textLength="366.40" lengthAdjust="spacingAndGlyphs">Благодаря нацпроекту</text>
<text x="85.70" y="2919.70" font-size="33" font-weight="bold" fill="#0f0f0f" textLength="484.29" lengthAdjust="spacingAndGlyphs">«Образование» современным</text>
<text x="85.70" y="2962.50" font-size="33" font-weight="bold" fill="#0f0f0f" textLength="375.21" lengthAdjust="spacingAndGlyphs">высокотехнологичным</text>
<text x="85.70" y="3004.80" font-size="33" font-weight="bold" fill="#0f0f0f" textLength="425.09" lengthAdjust="spacingAndGlyphs">оборудованием оснащено</text>
<text x="85.70" y="3047.60" font-size="33" font-weight="bold" fill="#0f0f0f" textLength="189.71" lengthAdjust="spacingAndGlyphs">мастерских</text>
<text x="85.70" y="3124.00" font-size="33" font-weight="normal" fill="#0f0f0f" textLength="76.19" lengthAdjust="spacingAndGlyphs" stroke="#0f0f0f" stroke-width="0.45" stroke-linejoin="round">2022</text>
<text x="345.00" y="3124.00" font-size="33" font-weight="bold" fill="#0f0f0f" textLength="129.19" lengthAdjust="spacingAndGlyphs">2,2 тыс.</text>
<text x="85.70" y="3213.20" font-size="33" font-weight="normal" fill="#0f0f0f" textLength="76.19" lengthAdjust="spacingAndGlyphs" stroke="#0f0f0f" stroke-width="0.45" stroke-linejoin="round">2024</text>
<text x="517.30" y="3213.20" font-size="33" font-weight="bold" fill="#0f0f0f" textLength="100.39" lengthAdjust="spacingAndGlyphs">5 тыс.</text>
<text x="86.00" y="3327.40" font-size="33" font-weight="normal" fill="#6c6c6c" textLength="603.20" lengthAdjust="spacingAndGlyphs">© АНО «Национальные приоритеты»,</text>
<text x="697.80" y="3327.40" font-size="33" font-weight="normal" fill="#6c6c6c" textLength="689.10" lengthAdjust="spacingAndGlyphs">2022. Источник: Минпросвещения России.</text>
<text x="1312.30" y="3113.80" font-size="45.6" font-weight="normal" fill="#1c1c1c" textLength="240.10" lengthAdjust="spacingAndGlyphs" stroke="#1c1c1c" stroke-width="0.7" stroke-linejoin="round">Подробнее</text>
<text x="1566.40" y="3113.80" font-size="45.6" font-weight="normal" fill="#1c1c1c" textLength="33.80" lengthAdjust="spacingAndGlyphs" stroke="#1c1c1c" stroke-width="0.7" stroke-linejoin="round">—</text>
<text x="1312.30" y="3177.70" font-size="45.6" font-weight="normal" fill="#1c1c1c" textLength="303.90" lengthAdjust="spacingAndGlyphs" stroke="#1c1c1c" stroke-width="0.7" stroke-linejoin="round">на ЯПРОФ.РФ</text></g><rect x="0" y="0" width="1920" height="3414" filter="url(#grain)" opacity="0.28" style="mix-blend-mode:overlay"/></svg>
</body></html>
